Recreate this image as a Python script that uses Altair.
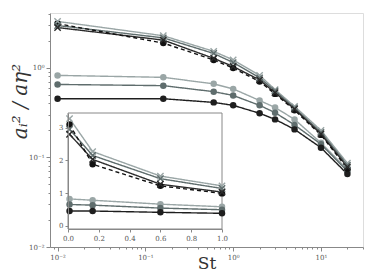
import altair as alt
import pandas as pd

# ---- data ----
st = [0.01, 0.16, 0.6, 1, 2, 3, 5, 10, 20]

circ_light = [0.82, 0.78, 0.66, 0.58, 0.43, 0.36, 0.265, 0.145, 0.073]
circ_mid = [0.65, 0.63, 0.54, 0.49, 0.38, 0.315, 0.23, 0.14, 0.070]
circ_dark = [0.45, 0.45, 0.41, 0.38, 0.31, 0.265, 0.205, 0.128, 0.065]

x_light = [3.28, 2.27, 1.52, 1.22, 0.82, 0.57, 0.37, 0.200, 0.086]
x_mid = [2.95, 2.15, 1.44, 1.14, 0.77, 0.55, 0.355, 0.190, 0.082]
x_dark = [2.80, 2.03, 1.27, 1.03, 0.73, 0.525, 0.345, 0.182, 0.078]
dash_black = [3.10, 1.88, 1.22, 0.99, 0.70, 0.51, 0.335, 0.178, 0.075]

names = ["circ_light", "circ_mid", "circ_dark", "x_light", "x_mid", "x_dark", "dash_black"]
values = [circ_light, circ_mid, circ_dark, x_light, x_mid, x_dark, dash_black]
markers = ["circle", "circle", "circle", "x", "x", "x", "circle"]
colors = ["#9aa6a6", "#5f6d6d", "#1e1e1e", "#9aa6a6", "#5f6d6d", "#2a2a2a", "#111111"]
dashes = [[1, 0], [1, 0], [1, 0], [1, 0], [1, 0], [1, 0], [4, 3]]

inset_max_st = 1.0

x_major = [0.01, 0.1, 1, 10]
x_minor = [0.009] + [k * 0.01 for k in range(2, 10)] + [k * 0.1 for k in range(2, 10)] + \
          [float(k) for k in range(2, 10)] + [20.0, 30.0]
y_major = [0.01, 0.1, 1]
y_minor = [k * 0.01 for k in range(2, 10)] + [k * 0.1 for k in range(2, 10)] + [2.0, 3.0, 4.0]

rows = []
for n, vals, m in zip(names, values, markers):
    for i, (s, v) in enumerate(zip(st, vals)):
        rows.append({"series": n, "st": s, "a": v, "marker": m, "order": i})
df = pd.DataFrame(rows)
df_in = df[df["st"] <= inset_max_st]

FONT = "DejaVu Serif"
AX = "#888888"
LBL = "#555555"

label_expr = ("abs(datum.value-0.01)<1e-9 ? '10⁻²' : abs(datum.value-0.1)<1e-9 ? '10⁻¹' : "
              "abs(datum.value-1)<1e-9 ? '10⁰' : abs(datum.value-10)<1e-9 ? '10¹' : ''")
major_test = "abs(log(datum.value)/LN10 - round(log(datum.value)/LN10)) < 1e-6"

color_enc = alt.Color("series:N", scale=alt.Scale(domain=names, range=colors), legend=None)
dash_enc = alt.StrokeDash("series:N", scale=alt.Scale(domain=names, range=dashes), legend=None)

X_main = alt.X("st:Q",
               scale=alt.Scale(type="log", domain=[0.0082, 30.1], nice=False),
               axis=alt.Axis(values=x_major + x_minor, labelExpr=label_expr, grid=False,
                             title="St", titleFont=FONT, titleFontSize=17, titleFontWeight="normal",
                             titleColor="#333333", titleBaseline="alphabetic", titleY=21,
                             labelFont=FONT, labelFontSize=7, labelColor=LBL, labelPadding=2,
                             labelFlush=False, labelOverlap=False,
                             tickColor=AX, domainColor=AX,
                             tickSize={"condition": {"test": major_test, "value": 4}, "value": 2}))
Y_main = alt.Y("a:Q",
               scale=alt.Scale(type="log", domain=[0.01, 4.07], nice=False),
               axis=alt.Axis(values=y_major + y_minor, labelExpr=label_expr, grid=False,
                             title="aᵢ² / aη²", titleFont=FONT, titleFontSize=20,
                             titleFontStyle="italic", titleFontWeight="normal", titleColor="#333333",
                             titleX=-30, titleY=88, titleAngle=-90, titleAlign="center",
                             titleBaseline="middle",
                             labelFont=FONT, labelFontSize=7, labelColor=LBL, labelPadding=2,
                             labelFlush=False, labelOverlap=False,
                             tickColor=AX, domainColor=AX,
                             tickSize={"condition": {"test": major_test, "value": 4}, "value": 2}))

xpath = "M-1,-1L1,1M-1,1L1,-1"

base = alt.Chart(df)
main_lines = base.mark_line(strokeWidth=1.4).encode(
    x=X_main, y=Y_main, color=color_enc, strokeDash=dash_enc, detail="series:N", order="order:Q")
main_circ = base.transform_filter(alt.datum.marker == "circle").mark_point(
    filled=True, size=42, opacity=1).encode(x=X_main, y=Y_main, color=color_enc)
main_x = base.transform_filter(alt.datum.marker == "x").mark_point(
    shape=xpath, filled=False, size=40, strokeWidth=1.4, opacity=1).encode(x=X_main, y=Y_main, color=color_enc)
main = alt.layer(main_lines, main_circ, main_x)

# ---- inset ----
X_in_scale = alt.Scale(domain=[0, 1], range=[18, 172], nice=False, zero=False)
Y_in_scale = alt.Scale(domain=[-0.1, 3.45], range=[216, 100], nice=False, zero=False)
X_in_axis = alt.Axis(orient="bottom", offset=-18, values=[0, 0.2, 0.4, 0.6, 0.8, 1.0], format=".1f",
                     grid=False, title=None, labelFont=FONT, labelFontSize=7, labelColor=LBL,
                     labelPadding=2, labelFlush=False, tickSize=3, tickColor=AX, domainColor=AX, zindex=1)
Y_in_axis = alt.Axis(orient="left", offset=-18, values=[0, 1, 2, 3], format="d",
                     grid=False, title=None, labelFont=FONT, labelFontSize=7, labelColor=LBL,
                     labelPadding=2, labelFlush=False, tickSize=3, tickColor=AX, domainColor=AX, zindex=1)

frame_df = pd.DataFrame({"x0": [0.0], "x1": [1.0], "y0": [-0.1], "y1": [3.45]})
inset_frame = alt.Chart(frame_df).mark_rect(fill="white", stroke=AX, strokeWidth=1).encode(
    x=alt.X("x0:Q", scale=X_in_scale, axis=X_in_axis), x2="x1:Q",
    y=alt.Y("y0:Q", scale=Y_in_scale, axis=Y_in_axis), y2="y1:Q")

base_in = alt.Chart(df_in)
X_in = alt.X("st:Q", scale=X_in_scale, axis=X_in_axis)
Y_in = alt.Y("a:Q", scale=Y_in_scale, axis=Y_in_axis)
in_lines = base_in.mark_line(strokeWidth=1.4).encode(
    x=X_in, y=Y_in, color=color_enc, strokeDash=dash_enc, detail="series:N", order="order:Q")
in_circ = base_in.transform_filter(alt.datum.marker == "circle").mark_point(
    filled=True, size=42, opacity=1).encode(x=X_in, y=Y_in, color=color_enc)
in_x = base_in.transform_filter(alt.datum.marker == "x").mark_point(
    shape=xpath, filled=False, size=40, strokeWidth=1.4, opacity=1).encode(x=X_in, y=Y_in, color=color_enc)
inset = alt.layer(inset_frame, in_lines, in_circ, in_x)

chart = alt.layer(main, inset).resolve_scale(x="independent", y="independent").properties(
    width=313, height=234,
    autosize=alt.AutoSizeParams(type="none"),
    padding={"left": 50, "top": 13, "right": 5, "bottom": 27},
).configure_view(stroke="#999999", strokeWidth=1.3).configure(background="white")

chart.save("out.html", embed_options={"renderer": "svg", "actions": False})
